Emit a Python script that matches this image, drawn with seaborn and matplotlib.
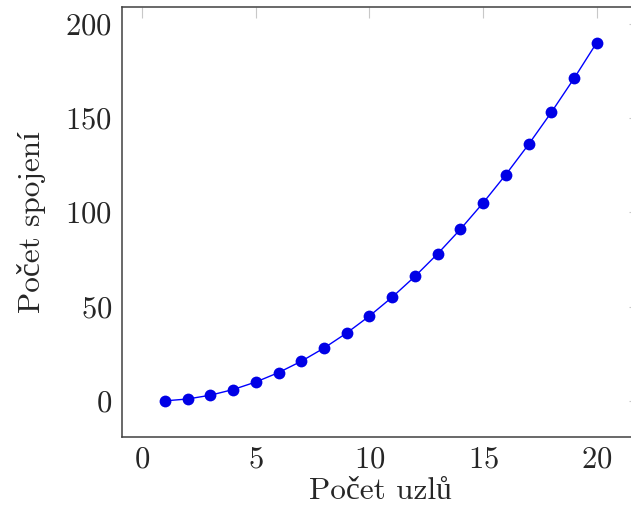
import matplotlib
matplotlib.use("Agg")
import matplotlib.pyplot as plt
import seaborn as sns
import pandas as pd

# počet uzlů a odpovídající počet spojení
uzly = [1, 2, 3, 4, 5, 6, 7, 8, 9, 10, 11, 12, 13, 14, 15, 16, 17, 18, 19, 20]
spojeni = [0, 1, 3, 6, 10, 15, 21, 28, 36, 45, 55, 66, 78, 91, 105, 120, 136, 153, 171, 190]
x_ticks = [0, 5, 10, 15, 20]
y_ticks = [0, 50, 100, 150, 200]

df = pd.DataFrame({"uzly": uzly, "spojeni": spojeni})

sns.set_style("white")
plt.rcParams["font.family"] = ["cmr10", "Liberation Serif", "DejaVu Serif"]
plt.rcParams["axes.formatter.use_mathtext"] = True

fig = plt.figure(figsize=(6.31, 5.17), dpi=100)
ax = fig.add_axes([121.7 / 631, (517 - 436.7) / 517, (640 - 121.7) / 631, (436.7 - 6.7) / 517])

sns.lineplot(data=df, x="uzly", y="spojeni", ax=ax, color="#0000ff", linewidth=1.0,
             marker="o", markersize=8.5, markeredgewidth=0, markerfacecolor="#0000e6")

ax.set_xlim(-0.9, 21.9)
ax.set_ylim(-19, 209)
ax.set_xticks(x_ticks)
ax.set_yticks(y_ticks)
ax.tick_params(direction="in", length=8, width=0.8, color="#c8c8c8",
               top=True, right=True, labelsize=22, pad=7)
for s in ax.spines.values():
    s.set_color("#404040")
    s.set_linewidth(1.1)

ax.set_xlabel("Počet uzlů", fontsize=22.5, labelpad=2)
ax.set_ylabel("Počet spojení", fontsize=22.5, labelpad=14)

fig.savefig("out.png", dpi=100)
plt.close(fig)
